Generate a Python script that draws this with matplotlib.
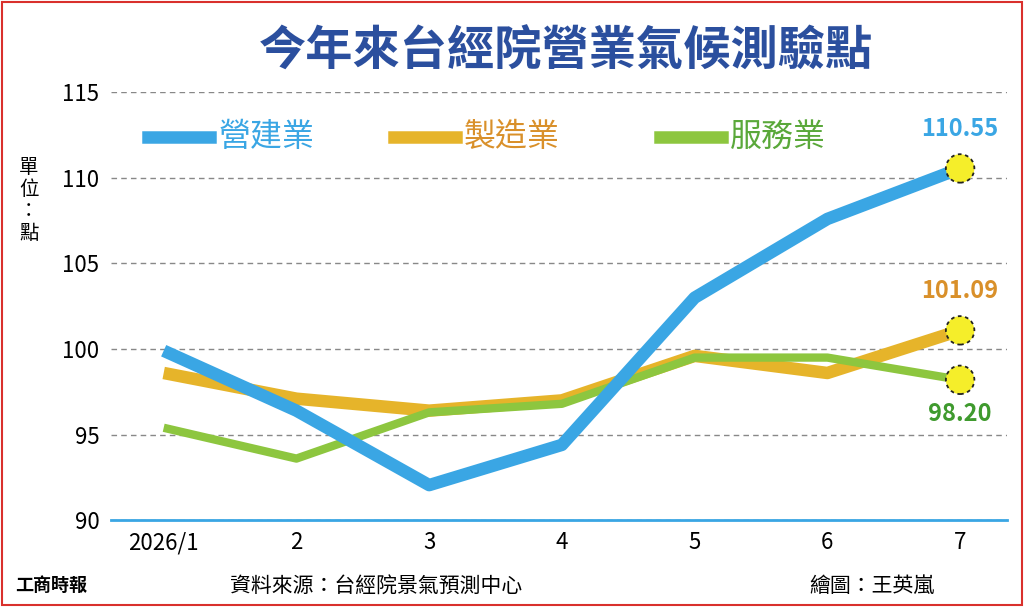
import matplotlib
matplotlib.use("Agg")
import matplotlib.pyplot as plt
from matplotlib.patches import Rectangle

plt.rcParams['font.family'] = ['Noto Sans CJK TC', 'DejaVu Sans']

months = ["2026/1", "2", "3", "4", "5", "6", "7"]
construction = [99.9, 96.4, 92.05, 94.4, 103.0, 107.6, 110.55]
manufacturing = [98.6, 97.1, 96.4, 97.0, 99.6, 98.6, 101.09]
services = [95.4, 93.6, 96.3, 96.8, 99.5, 99.5, 98.20]

C_CON = "#3aa6e4"
C_MAN = "#e6b42a"
C_SER = "#8dc63f"

fig = plt.figure(figsize=(10.24, 6.07), dpi=100, facecolor="white")
fig.patches.append(Rectangle((0.002, 0.003), 0.996, 0.994, transform=fig.transFigure,
                             fill=False, edgecolor="#d9302c", lw=1.5))
ax = fig.add_axes([0.108, 0.143, 0.875, 0.705])
x = list(range(len(months)))

ax.plot(x, manufacturing, color=C_MAN, lw=9, solid_capstyle="butt", zorder=2)
ax.plot(x, services, color=C_SER, lw=6, solid_capstyle="butt", zorder=3)
ax.plot(x, construction, color=C_CON, lw=9, solid_capstyle="butt", zorder=4)

for v in [construction[-1], manufacturing[-1], services[-1]]:
    ax.scatter([x[-1]], [v], s=420, color="#f5ee2a", edgecolor="#222222",
               linestyle=(0, (2, 2)), lw=1.3, zorder=6)

ax.text(x[-1], construction[-1] + 1.6, f"{construction[-1]:.2f}", color=C_CON,
        fontsize=17, fontweight="bold", ha="center", va="bottom")
ax.text(x[-1], manufacturing[-1] + 1.6, f"{manufacturing[-1]:.2f}", color="#d9902a",
        fontsize=17, fontweight="bold", ha="center", va="bottom")
ax.text(x[-1], services[-1] - 1.3, f"{services[-1]:.2f}", color="#3f9a2e",
        fontsize=17, fontweight="bold", ha="center", va="top")

ax.set_xlim(-0.4, 6.35)
ax.set_ylim(90, 115)
ax.set_yticks([90, 95, 100, 105, 110, 115])
ax.set_xticks(x)
ax.set_xticklabels(months)
ax.tick_params(axis="both", length=0, labelsize=16, pad=8)
ax.grid(axis="y", color="#888888", ls=(0, (4, 3)), lw=1)
for s in ["top", "right", "left"]:
    ax.spines[s].set_visible(False)
ax.spines["bottom"].set_color(C_CON)
ax.spines["bottom"].set_linewidth(2)

# legend
for lx, col, name, tcol in [(0.145, C_CON, "營建業", C_CON), (0.385, C_MAN, "製造業", "#d9902a"),
                            (0.645, C_SER, "服務業", "#5aa83a")]:
    fig.add_artist(plt.Line2D([lx, lx + 0.06], [0.775, 0.775], color=col, lw=9,
                              transform=fig.transFigure))
    fig.text(lx + 0.068, 0.775, name, color=tcol, fontsize=23, va="center")

fig.text(0.553, 0.915, "今年來台經院營業氣候測驗點", color="#2b4f9e", fontsize=34,
         fontweight="bold", ha="center", va="center")
fig.text(0.028, 0.67, "單\n位\n：\n點", fontsize=14, ha="center", va="center", linespacing=1.05)
fig.text(0.015, 0.035, "工商時報", fontsize=13, fontweight="bold", va="center")
fig.text(0.225, 0.035, "資料來源：台經院景氣預測中心", fontsize=15, va="center")
fig.text(0.79, 0.035, "繪圖：王英嵐", fontsize=15, va="center")

fig.savefig("out.png", dpi=100, facecolor="white")
